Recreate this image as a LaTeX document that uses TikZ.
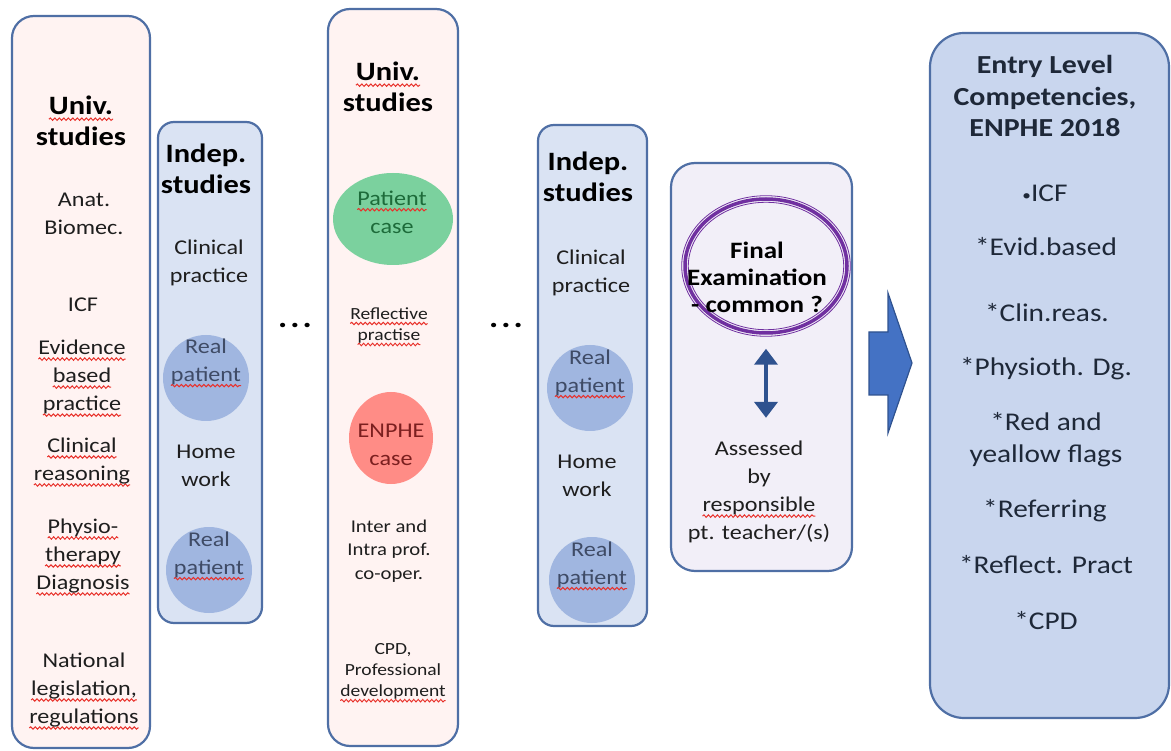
\documentclass[tikz,border=0pt]{standalone}
\usepackage{fontspec}
\setmainfont{Carlito}[FakeStretch=1.15]
\usetikzlibrary{shapes.geometric,arrows.meta,decorations.pathmorphing}
\definecolor{boxline}{HTML}{4F6FA5}
\definecolor{pinkf}{HTML}{FFF3F2}
\definecolor{bluef}{HTML}{DAE3F3}
\definecolor{lavf}{HTML}{F2EFF8}
\definecolor{rightf}{HTML}{C9D6EE}
\definecolor{rpf}{HTML}{A0B6E0}
\definecolor{rptxt}{HTML}{3F4B66}
\definecolor{greenf}{HTML}{7BD19E}
\definecolor{greentxt}{HTML}{1D6B3A}
\definecolor{redf}{HTML}{FF8C86}
\definecolor{redtxt}{HTML}{7B1F1F}
\definecolor{purp}{HTML}{7030A0}
\definecolor{arrf}{HTML}{4472C4}
\definecolor{arrd}{HTML}{2F528F}
\definecolor{txtc}{HTML}{1E1E1E}
\definecolor{rtxt}{HTML}{1E2838}
\definecolor{squigc}{HTML}{E8302A}
\newsavebox\sqbox
\newdimen\sqw
\newcommand\sq[1]{\sbox\sqbox{#1}\sqw=\wd\sqbox\rlap{\tikz[overlay,baseline=0pt]\draw[squigc, line width=1pt, decorate, decoration={snake, amplitude=1.2pt, segment length=4.5pt}] (0pt,-4.5pt) -- (\sqw,-4.5pt);}\usebox\sqbox}
\newcommand\smallbullet{\raisebox{1pt}{\fontsize{15}{15}\selectfont•}}
\tikzset{
  box/.style={draw=boxline, line width=2.2pt, inner sep=0pt, rounded corners=22pt},
  pinkbox/.style={box, fill=pinkf},
  bluebox/.style={box, fill=bluef, rounded corners=16pt},
  lavbox/.style={box, fill=lavf, rounded corners=24pt},
  rightbox/.style={box, fill=rightf, rounded corners=34pt},
  txt/.style={align=center, inner sep=0pt, text=txtc, font=\fontsize{21}{28}\selectfont},
  small/.style={txt, font=\fontsize{17}{21}\selectfont},
  head/.style={align=center, inner sep=0pt, text=black, font=\fontsize{26.5}{31}\selectfont\bfseries},
  rp/.style={circle, fill=rpf, minimum size=86pt, inner sep=0pt},
  rpt/.style={txt, text=rptxt},
  rtx/.style={align=center, inner sep=0pt, text=rtxt, font=\fontsize{25.5}{32}\selectfont},
  dots/.style={inner sep=0pt, font=\fontsize{30}{30}\selectfont\bfseries},
}
\begin{document}
\begin{tikzpicture}[x=1pt, y=-1pt]
\useasboundingbox (0,0) rectangle (1171,751);
% containers
\node[pinkbox, minimum width=138pt, minimum height=732pt] (b1) at (81,382) {};
\node[bluebox, minimum width=104pt, minimum height=501pt] (b2) at (210,372.5) {};
\node[pinkbox, minimum width=130pt, minimum height=737pt] (b3) at (393,377.5) {};
\node[bluebox, minimum width=109pt, minimum height=501pt] (b4) at (592.5,375.5) {};
\node[lavbox, minimum width=181pt, minimum height=408pt] (b5) at (761.5,367) {};
\node[rightbox, minimum width=239pt, minimum height=685pt] (b6) at (1049.5,375.5) {};

% box 1
\node[head] (u1) at (81,121) {\sq{Univ.}\\studies};
\node[txt] (t11) at (84,214) {Anat.\\Biomec.};
\node[txt] (t12) at (83,305) {ICF};
\node[txt] (t13) at (82,377) {\sq{Evidence}\\\sq{based}\\\sq{practice}};
\node[txt] (t14) at (82,461) {\sq{Clinical}\\\sq{reasoning}};
\node[txt] (t15) at (83,556) {\sq{Physio-}\\\sq{therapy}\\\sq{Diagnosis}};
\node[txt] (t16) at (84,690) {National\\\sq{legislation,}\\\sq{regulations}};

% box 2
\node[head] (i1) at (206,169) {Indep.\\studies};
\node[txt] (t21) at (209,263) {Clinical\\practice};
\node[rp] (c21) at (206,378) {};
\node[rpt] (t22) at (206,361.5) {Real\\\sq{patient}};
\node[txt] (t23) at (206,466) {Home\\work};
\node[rp] (c22) at (209,570) {};
\node[rpt] (t24) at (209,554.5) {Real\\\sq{patient}};

\node[dots] (d1) at (295,325) {.\kern3pt.\kern3pt.};

% box 3
\node[head] (u3) at (388,87) {\sq{Univ.}\\studies};
\node[ellipse, fill=greenf, minimum width=120pt, minimum height=92pt, inner sep=0pt] (pc) at (393,219) {};
\node[txt, text=greentxt] (t31) at (392,212) {\sq{Patient}\\case};
\node[small] (t32) at (389,325) {\sq{Reflective}\\\sq{practise}};
\node[ellipse, fill=redf, minimum width=84pt, minimum height=92pt, inner sep=0pt] (ec) at (391,438) {};
\node[txt, text=redtxt] (t33) at (391,444.5) {ENPHE\\case};
\node[small, font=\fontsize{18}{23.5}\selectfont] (t34) at (389,551) {Inter and\\Intra prof.\\co-oper.};
\node[small] (t35) at (393,671) {CPD,\\Professional\\\sq{development}};

\node[dots] (d2) at (506,325) {.\kern3pt.\kern3pt.};

% box 4
\node[head] (i4) at (588,177) {Indep.\\studies};
\node[txt] (t41) at (591,273) {Clinical\\practice};
\node[rp] (c41) at (590,388) {};
\node[rpt] (t42) at (590,372.5) {Real\\\sq{patient}};
\node[txt] (t43) at (587,475.5) {Home\\work};
\node[rp] (c42) at (592,580) {};
\node[rpt] (t44) at (592,564.5) {Real\\\sq{patient}};

% box 5
\node[ellipse, draw=purp, line width=3.5pt, minimum width=162pt, minimum height=134pt, inner sep=0pt] (fe) at (766,266) {};
\draw[purp, line width=0.8pt] (fe.center) ellipse [x radius=84.3, y radius=70.3];
\draw[purp, line width=0.8pt] (fe.center) ellipse [x radius=77.7, y radius=63.7];
\node[head, font=\fontsize{23.5}{27}\selectfont\bfseries] (ft) at (757,277) {Final\\Examination\\- common ?};
\node[txt] (as) at (759,492) {Assessed\\by\\\sq{responsible}\\pt. teacher/(s)};
\draw[draw=arrd, line width=4.5pt, {Triangle[width=23pt,length=16pt]}-{Triangle[width=23pt,length=16pt]}, shorten <=14pt, shorten >=23pt] (fe.south) -- (fe.south |- as.north);

% big arrow
\draw[fill=arrf, draw=arrd, line width=1.2pt, line join=miter] (869,332) -- (888,332) -- (888,293) -- (912,363) -- (888,433) -- (888,395) -- (869,395) -- cycle;

% box 6
\node[head, text=rtxt, font=\fontsize{26}{31.5}\selectfont\bfseries] (eh) at (1045,96) {Entry Level\\Competencies,\\ENPHE 2018};
\node[rtx] (r1) at (1045,193) {\smallbullet ICF};
\node[rtx] (r2) at (1046,247) {*Evid.based};
\node[rtx] (r3) at (1047,313) {*Clin.reas.};
\node[rtx] (r4) at (1046,369) {*Physioth. Dg.};
\node[rtx] (r5) at (1046,440) {*Red and\\yeallow flags};
\node[rtx] (r6) at (1045,511) {*Referring};
\node[rtx] (r7) at (1046,565) {*Reflect. Pract};
\node[rtx] (r8) at (1046,621) {*CPD};
\end{tikzpicture}
\end{document}
